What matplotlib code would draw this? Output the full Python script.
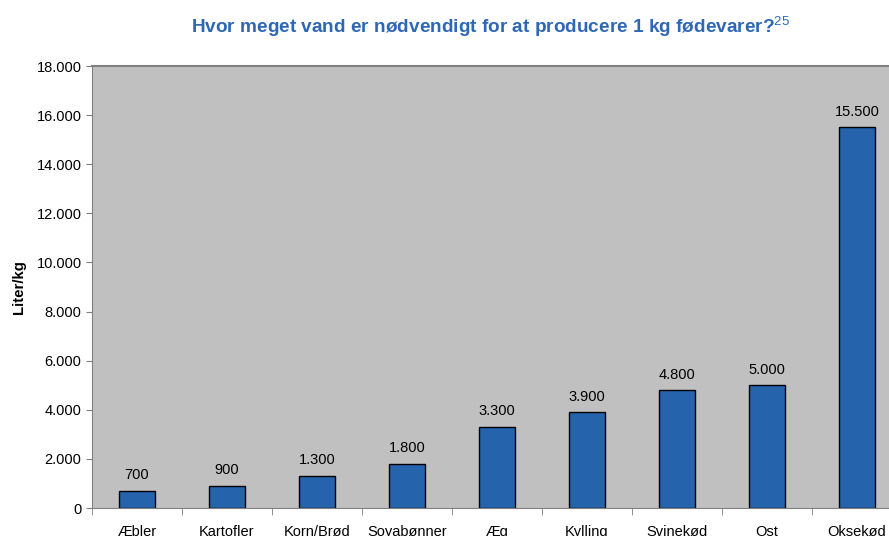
import numpy as np
import matplotlib.pyplot as plt
from matplotlib.ticker import FuncFormatter

plt.rcParams['font.family'] = ['Liberation Sans', 'DejaVu Sans']
plt.rcParams['mathtext.fontset'] = 'custom'
plt.rcParams['mathtext.rm'] = 'Liberation Sans'
plt.rcParams['mathtext.it'] = 'Liberation Sans'
plt.rcParams['mathtext.bf'] = 'Liberation Sans:bold'

categories = ['Æbler', 'Kartofler', 'Korn/Brød', 'Soyabønner', 'Æg',
              'Kylling', 'Svinekød', 'Ost', 'Oksekød']
liters = [700, 900, 1300, 1800, 3300, 3900, 4800, 5000, 15500]

fig = plt.figure(figsize=(8.89, 5.36), dpi=100)
ax = fig.add_axes([92 / 889, 28 / 536, 810 / 889, 442 / 536])
ax.set_facecolor('#c0c0c0')

x = np.arange(len(categories))
ax.bar(x, liters, width=0.41, color='#2563ad', edgecolor='black', linewidth=1)

def dk(v):
    return f'{int(v):,}'.replace(',', '.')

for xi, v in zip(x, liters):
    ax.text(xi, v + 350, dk(v), ha='center', va='bottom', fontsize=10.5)

ax.set_xlim(-0.5, len(categories) - 0.5)
ax.set_ylim(0, 18000)
ax.set_yticks(np.arange(0, 18001, 2000))
ax.yaxis.set_major_formatter(FuncFormatter(lambda v, p: dk(v)))
ax.set_xticks(x)
ax.set_xticklabels(categories, fontsize=10.5)
ax.set_xticks(np.arange(-0.5, len(categories), 1), minor=True)
ax.tick_params(axis='x', which='major', length=0, pad=12)
ax.tick_params(axis='x', which='minor', length=5, color='#808080')
ax.tick_params(axis='y', labelsize=10.5, length=4, color='#808080')

for s in ['top', 'left', 'bottom']:
    ax.spines[s].set_color('#808080')
ax.spines['right'].set_visible(False)
ax.spines['top'].set_linewidth(1.5)

fig.text(19 / 889, 1 - 287 / 536, 'Liter/kg', rotation=90, ha='center', va='center',
         fontsize=10.8, fontweight='bold')

fig.text(491 / 889, 1 - 27 / 536,
         'Hvor meget vand er nødvendigt for at producere 1 kg fødevarer?$^{\\mathrm{25}}$',
         ha='center', va='center', fontsize=13.7, fontweight='bold', color='#2e68b4')

fig.savefig('out.png', dpi=100)
